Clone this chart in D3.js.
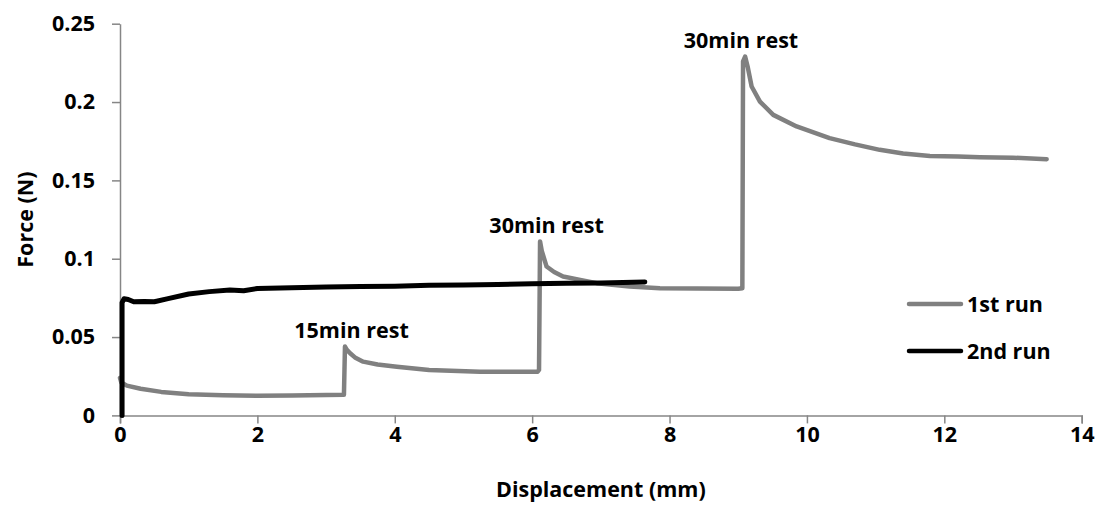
<!DOCTYPE html>
<html><head><meta charset="utf-8">
<script src="https://cdn.jsdelivr.net/npm/d3@7"></script>
<style>
body{margin:0;background:#fff;}
text{font-family:"Open Sans",Carlito,Calibri,sans-serif;font-weight:bold;fill:#000;}
</style></head>
<body><svg id="c" width="1100" height="505"></svg>
<script>
// Data: [displacement (mm), force (N)]
const run1 = [[0,0.024],[0.02,0.021],[0.1,0.019],[0.3,0.017],[0.6,0.015],[1.0,0.0135],[1.5,0.0128],[2.0,0.0125],[2.5,0.0127],[3.0,0.013],[3.26,0.0132],
 [3.275,0.044],[3.3,0.042],[3.35,0.0397],[3.42,0.037],[3.54,0.0343],[3.75,0.0325],[4.03,0.0311],[4.5,0.029],[5.24,0.0279],[5.7,0.0279],[6.08,0.0279],[6.1,0.029],
 [6.115,0.111],[6.14,0.105],[6.21,0.095],[6.32,0.0915],[6.45,0.0886],[6.7,0.0865],[6.94,0.0844],[7.42,0.0822],[7.86,0.0812],[8.4,0.081],[9.0,0.0808],[9.06,0.0812],
 [9.07,0.226],[9.1,0.229],[9.14,0.222],[9.195,0.2099],[9.316,0.2003],[9.51,0.1918],[9.85,0.1844],[10.33,0.177],[10.7,0.173],[11.06,0.1695],[11.4,0.1672],
 [11.79,0.1656],[12.2,0.1652],[12.52,0.1648],[13.0,0.1645],[13.49,0.1635]];
const run2 = [[0.03,0],[0.03,0.072],[0.06,0.0745],[0.12,0.074],[0.2,0.0725],[0.35,0.0727],[0.5,0.0725],[0.7,0.0745],[1.0,0.0775],[1.3,0.079],[1.6,0.080],
 [1.8,0.0795],[2.0,0.081],[2.5,0.0815],[3.0,0.082],[3.5,0.0822],[4.0,0.0825],[4.5,0.083],[5.0,0.0832],[5.5,0.0835],[6.0,0.084],[6.5,0.0843],[7.0,0.0845],[7.64,0.0852]];
const xTicks = [0,2,4,6,8,10,12,14];
const yTicks = [0,0.05,0.1,0.15,0.2,0.25];
const annotations = [{text:"15min rest", x:3.37, y:0.0493},{text:"30min rest", x:6.21, y:0.1163},{text:"30min rest", x:9.04, y:0.2344}];
const seriesNames = ["1st run","2nd run"];
const seriesColors = ["#808080","#000000"];

const svg = d3.select("#c");
const L=120, R=1081.7, T=23.7, B=415.4;
const x = d3.scaleLinear().domain([0,14]).range([L,R]);
const y = d3.scaleLinear().domain([0,0.25]).range([B,T]);
const axisColor = "#868686";
const FS = "21.5px";

const xa = svg.append("g").attr("transform",`translate(0,${B})`)
  .call(d3.axisBottom(x).tickValues(xTicks).tickFormat(d3.format("d")).tickSizeOuter(8).tickSize(8).tickPadding(19));
const ya = svg.append("g").attr("transform",`translate(${L},0)`)
  .call(d3.axisLeft(y).tickValues(yTicks).tickFormat(d=>d===0?"0":String(+d.toFixed(2))).tickSize(8).tickSizeOuter(0).tickPadding(17));
[xa,ya].forEach(a=>{
  a.select(".domain").attr("stroke",axisColor).attr("stroke-width",1.5);
  a.selectAll(".tick line").attr("stroke",axisColor).attr("stroke-width",1.5);
  a.selectAll(".tick text").style("font-size",FS).attr("fill","#000");
});
xa.selectAll(".tick text").attr("dy","0");

const line = d3.line().x(d=>x(d[0])).y(d=>y(d[1]));
svg.append("path").datum(run1).attr("d",line).attr("fill","none").attr("stroke",seriesColors[0]).attr("stroke-width",4.5).attr("stroke-linejoin","round").attr("stroke-linecap","round");
svg.append("path").datum(run2).attr("d",line).attr("fill","none").attr("stroke",seriesColors[1]).attr("stroke-width",5).attr("stroke-linejoin","round").attr("stroke-linecap","round");

svg.selectAll("text.ann").data(annotations).enter().append("text").attr("class","ann")
  .attr("x",d=>x(d.x)).attr("y",d=>y(d.y)).attr("text-anchor","middle").style("font-size",FS).text(d=>d.text);

// axis titles
svg.append("text").attr("x",(L+R)/2).attr("y",497).attr("text-anchor","middle").style("font-size",FS).text("Displacement (mm)");
svg.append("text").attr("transform",`translate(33,${(T+B)/2}) rotate(-90)`).attr("text-anchor","middle").style("font-size",FS).text("Force (N)");

// legend
const lg = svg.append("g");
seriesNames.forEach((n,i)=>{
  const yy = 304 + i*47;
  lg.append("line").attr("x1",909).attr("x2",961).attr("y1",yy).attr("y2",yy).attr("stroke",seriesColors[i]).attr("stroke-width",4.5).attr("stroke-linecap","round");
  lg.append("text").attr("x",967).attr("y",yy+7.5).style("font-size",FS).text(n);
});
</script></body></html>
